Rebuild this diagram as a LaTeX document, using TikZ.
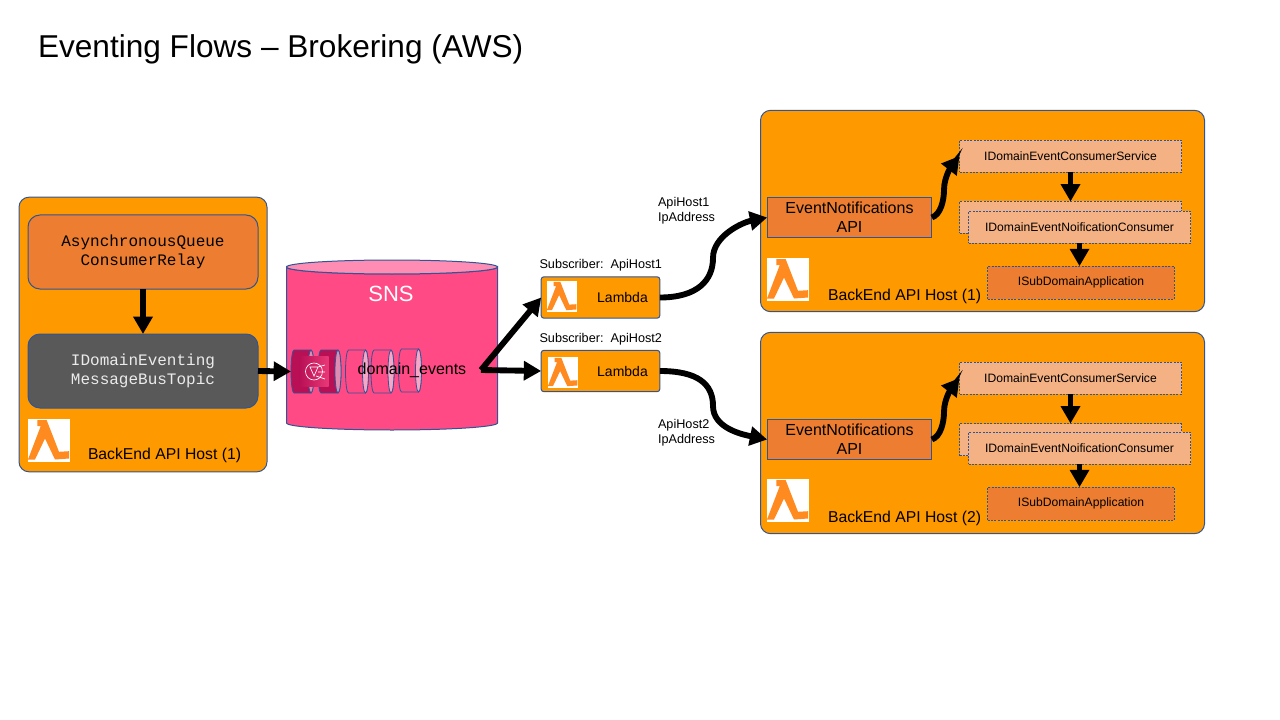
\documentclass[tikz,border=0pt]{standalone}
\usepackage{fontspec}
\setmainfont{Liberation Sans}
\setmonofont{Liberation Mono}
\usetikzlibrary{arrows.meta, positioning, calc}
\definecolor{hostorange}{HTML}{FF9900}
\definecolor{boxorange}{HTML}{ED7D31}
\definecolor{boxpeach}{HTML}{F4B183}
\definecolor{boxgrey}{HTML}{595959}
\definecolor{edgeblue}{HTML}{2F5597}
\definecolor{snspink}{HTML}{FF4A85}
\definecolor{snslight}{HTML}{FF8DB3}
\definecolor{queuedark}{HTML}{B80F55}
\definecolor{queueend}{HTML}{DE8CB2}
\definecolor{queuelight}{HTML}{F8A6C6}
\definecolor{lambdaorange}{HTML}{FF8A1F}
\tikzset{
    pics/lambdaicon/.style={code={
        \fill[white] (-21,-21.5) rectangle (21,21.5);
        \fill[lambdaorange] (-11.7,-20.3) -- (-2.3,-20.3) -- (10,11.3) -- (20,10.7) -- (20,18)
            -- (6,19) -- (-4,-2) -- (-14,19) -- (-21,19) -- (-8.3,-14.3) -- (-11.7,-14.3) -- cycle;
    }},
    pics/queuecyl/.style 2 args={code={
        \draw[edgeblue, line width=0.6pt, fill=#1] (8.5,-21.5) -- (-8.5,-21.5)
            arc[start angle=270, end angle=90, x radius=3, y radius=21.5] -- (8.5,21.5)
            arc[start angle=90, end angle=-90, x radius=3, y radius=21.5] -- cycle;
        \draw[edgeblue, line width=0.6pt, fill=#2] (8.5,0) ellipse[x radius=3, y radius=21.5];
        \coordinate (-in) at (-11.5,0);
    }}
}

\begin{document}
\begin{tikzpicture}[
    x=0.75pt, y=-0.75pt,
    every node/.style={font=\fontsize{12}{14.4}\selectfont, inner sep=0pt, outer sep=0pt, align=center},
    hostbox/.style={draw=edgeblue, fill=hostorange, line width=0.75pt, rounded corners=7.5pt},
    hosttext/.style={anchor=west, font=\fontsize{11.8}{14}\selectfont},
    relaybox/.style={draw=edgeblue, line width=0.75pt, rounded corners=9pt, minimum width=172.5pt, minimum height=55.5pt, font=\ttfamily\fontsize{12}{14.4}\selectfont},
    lambdabox/.style={draw=edgeblue, fill=hostorange, line width=0.75pt, rounded corners=2pt, minimum width=89pt, minimum height=31pt},
    apibox/.style={draw=edgeblue, fill=boxorange, line width=0.75pt, minimum width=123.5pt, minimum height=30pt},
    svcbox/.style={draw=edgeblue, fill=boxpeach, line width=0.5pt, dash pattern=on 1.5pt off 1pt, minimum width=166.5pt, minimum height=24pt, font=\fontsize{9.1}{10.8}\selectfont},
    appbox/.style={draw=edgeblue, fill=boxorange, line width=0.5pt, dash pattern=on 1.5pt off 1pt, minimum width=140pt, minimum height=24.5pt, font=\fontsize{9.1}{10.8}\selectfont},
    small/.style={font=\fontsize{9.5}{11.4}\selectfont},
    flow/.style={-{Triangle[length=13pt,width=14pt]}, line width=4.4pt, black}
]
\useasboundingbox (0,0) rectangle (1280,720);

\node[anchor=west, font=\fontsize{23.7}{28}\selectfont] (title) at (38,49) {Eventing Flows – Brokering (AWS)};

% left host
\node[hostbox, minimum width=186pt, minimum height=206pt] (hostleft) at (143,334.5) {};
\node[relaybox, fill=boxorange] (relay) at (143,252) {AsynchronousQueue\\ConsumerRelay};
\node[relaybox, fill=boxgrey, text=white!92!black] (topic) at (143,371) {IDomainEventing\\MessageBusTopic};
\pic at (49,440.5) {lambdaicon};
\node[hosttext] (hostlefttext) at (88,455) {BackEnd API Host (1)};

% SNS
\draw[edgeblue, line width=0.75pt, fill=snspink] (286.5,267) -- (286.5,423)
    arc[start angle=180, end angle=0, x radius=105.5, y radius=7] -- (497.5,267)
    arc[start angle=0, end angle=180, x radius=105.5, y radius=7] -- cycle;
\draw[edgeblue, line width=0.75pt, fill=snslight] (392,267) ellipse[x radius=105.5, y radius=7];
\node[white, font=\fontsize{16.5}{19}\selectfont] (snstext) at (391,294) {SNS};

\pic (q1) at (302.5,371.5) {queuecyl={queuedark}{queueend}};
\pic (q2) at (329.5,371.5) {queuecyl={queuedark}{queueend}};
\pic (q3) at (357,371.5) {queuecyl={snspink}{queuelight}};
\pic (q4) at (382.5,371.5) {queuecyl={snspink}{queuelight}};
\pic (q5) at (410,370.5) {queuecyl={snspink}{queuelight}};

\node[left color=queuedark, right color=snspink!70!queuedark, minimum size=22pt] (snsicon) at (314,371.5) {};
\draw[white, line width=0.5pt] (314,371.5) circle (8.5);
\draw[white, line width=0.5pt] (310,367) -- (318,367) -- (314,376) -- cycle (318,367) -- (325,365) (318,372) -- (325,372) (316,376) -- (325,379);
\node (topicname) at (412,370) {domain\_events};

% lambdas
\coordinate (fork) at (481,370);
\node[lambdabox] (lambda1) at (600.5,297.5) {};
\pic[scale=0.72] at (562,296.5) {lambdaicon};
\node (lambda1text) at (622.5,297) {\fontsize{10.5}{12.6}\selectfont Lambda};
\node[small, anchor=west] (sub1) at (539.5,265) {Subscriber:\ \ ApiHost1};
\node[lambdabox] (lambda2) at (600.5,371) {};
\pic[scale=0.72] at (563,372.5) {lambdaicon};
\node (lambda2text) at (622.5,371) {\fontsize{10.5}{12.6}\selectfont Lambda};
\node[small, anchor=west] (sub2) at (539.5,339) {Subscriber:\ \ ApiHost2};

\node[small, anchor=west, align=left] (addr1) at (658,210.5) {ApiHost1\\IpAddress};
\node[small, anchor=west, align=left] (addr2) at (658,432.5) {ApiHost2\\IpAddress};

% right hosts
\node[hostbox, minimum width=333pt, minimum height=151pt] (host1) at (982.5,211) {};
\node[apibox] (api1) at (849.5,217.5) {EventNotifications\\API};
\node[svcbox] (consumer1) at (1070.5,156) {IDomainEventConsumerService};
\node[svcbox] (backing1) at (1070.5,217.5) {};
\node[svcbox] (notify1) at (1079.5,227.5) {IDomainEventNoificationConsumer};
\node[appbox] (app1) at (1081,282.5) {ISubDomainApplication};
\pic at (788,279.5) {lambdaicon};
\node[hosttext] (host1text) at (828,296) {BackEnd API Host (1)};

\node[hostbox, minimum width=333pt, minimum height=151pt] (host2) at (982.5,433) {};
\node[apibox] (api2) at (849.5,439.5) {EventNotifications\\API};
\node[svcbox] (consumer2) at (1070.5,378) {IDomainEventConsumerService};
\node[svcbox] (backing2) at (1070.5,439.5) {};
\node[svcbox] (notify2) at (1079.5,448) {IDomainEventNoificationConsumer};
\node[appbox] (app2) at (1081,503.5) {ISubDomainApplication};
\pic at (788,500.5) {lambdaicon};
\node[hosttext] (host2text) at (828,518) {BackEnd API Host (2)};

% connectors
\coordinate (bend1) at (713,258);
\coordinate (bend2) at (713,406);
\coordinate (hook1) at (944,190);
\coordinate (hook2) at (944,412);
\draw[flow] (relay.south) -- (topic.north);
\draw[flow] (topic.east) -- (q1-in);
\draw[flow] (fork) -- (lambda1.west);
\draw[flow] (fork) -- (lambda2.west);
\draw[flow] (lambda1.east) .. controls +(38,0) and +(0,22) .. (bend1) .. controls +(0,-22) and +(-25,5) .. (api1.west);
\draw[flow] (lambda2.east) .. controls +(38,0) and +(0,-22) .. (bend2) .. controls +(0,22) and +(-25,-5) .. (api2.west);
\draw[flow] (api1.east) .. controls +(9,-3) and +(0,10) .. (hook1) .. controls +(0,-14) and +(-7,9) .. (consumer1.west);
\draw[flow] (api2.east) .. controls +(9,-3) and +(0,10) .. (hook2) .. controls +(0,-14) and +(-7,9) .. (consumer2.west);
\draw[flow] (consumer1.south) -- (backing1.north);
\draw[flow] (notify1.south) -- (notify1.south |- app1.north);
\draw[flow] (consumer2.south) -- (backing2.north);
\draw[flow] (notify2.south) -- (notify2.south |- app2.north);

\end{tikzpicture}
\end{document}
